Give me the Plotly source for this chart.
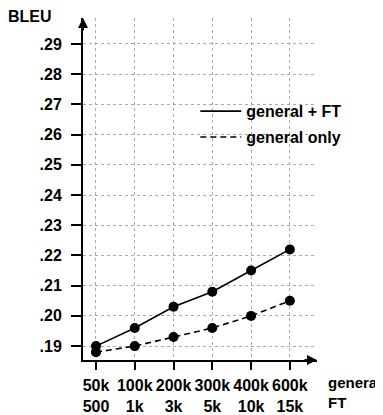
import plotly.graph_objects as go

general_sizes = ["50k", "100k", "200k", "300k", "400k", "600k"]
ft_sizes = ["500", "1k", "3k", "5k", "10k", "15k"]
bleu_general_ft = [0.190, 0.196, 0.203, 0.208, 0.215, 0.222]
bleu_general_only = [0.188, 0.190, 0.193, 0.196, 0.200, 0.205]
y_ticks = [0.19, 0.20, 0.21, 0.22, 0.23, 0.24, 0.25, 0.26, 0.27, 0.28, 0.29]
y_ticktext = ["." + f"{v:.2f}".split(".")[1] for v in y_ticks]

FONT = "Liberation Sans"
DASH = "6px,4px"
xs = list(range(len(general_sizes)))
ticktext = [f"{g}<br>{f}" for g, f in zip(general_sizes, ft_sizes)]

fig = go.Figure()
fig.add_trace(go.Scatter(x=xs, y=bleu_general_ft, mode="lines+markers",
                         line=dict(color="black", width=1.6),
                         marker=dict(color="black", size=10), showlegend=False))
fig.add_trace(go.Scatter(x=xs, y=bleu_general_only, mode="lines+markers",
                         line=dict(color="black", width=1.6, dash=DASH),
                         marker=dict(color="black", size=10), showlegend=False))
fig.add_trace(go.Scatter(x=[None], y=[None], mode="lines", name="general + FT",
                         legendgroup="a",
                         line=dict(color="black", width=1.6)))
fig.add_trace(go.Scatter(x=[None], y=[None], mode="lines", name="general only",
                         legendgroup="b",
                         line=dict(color="black", width=1.6, dash=DASH)))

# page body has an 8px margin, so the figure is 8px smaller and shifted
fig.update_layout(
    width=375, height=407,
    margin=dict(l=75, r=66, t=10, b=55, autoexpand=False),
    plot_bgcolor="white", paper_bgcolor="white",
    font=dict(family=FONT, size=16, color="black"),
    legend=dict(x=0.48, y=0.777, xanchor="left", yanchor="top", itemwidth=41,
                bgcolor="rgba(0,0,0,0)", font=dict(family=FONT, size=16, color="black", weight="bold"),
                tracegroupgap=2),
    xaxis=dict(range=[-0.335, 5.7], tickvals=xs, ticktext=ticktext,
               showgrid=True, gridcolor="#aaa", griddash="dot", gridwidth=1,
               showline=True, linecolor="black", linewidth=2,
               ticks="outside", ticklen=8, tickwidth=1.5, tickcolor="black",
               ticklabelstandoff=2, automargin=False,
               tickfont=dict(family=FONT, size=16, color="black", weight="bold"),
               zeroline=False, fixedrange=True),
    yaxis=dict(range=[0.1854, 0.2986], tickvals=y_ticks, ticktext=y_ticktext,
               showgrid=True, gridcolor="#aaa", griddash="dot", gridwidth=1,
               showline=True, linecolor="black", linewidth=2,
               ticks="outside", ticklen=10, tickwidth=1.5, tickcolor="black",
               ticklabelstandoff=6, automargin=False,
               tickfont=dict(family=FONT, size=16, color="black", weight="bold"),
               zeroline=False, fixedrange=True),
)

fig.add_annotation(x=0, y=1, xref="paper", yref="paper", ax=0, ay=14,
                   axref="pixel", ayref="pixel", showarrow=True, arrowhead=2,
                   arrowsize=1, arrowwidth=2, arrowcolor="black", text="")
fig.add_annotation(x=1, y=0, xref="paper", yref="paper", ax=-14, ay=0,
                   axref="pixel", ayref="pixel", showarrow=True, arrowhead=2,
                   arrowsize=1, arrowwidth=2, arrowcolor="black", text="")
fig.add_annotation(x=-0.2265, y=1.0, xref="paper", yref="paper", xanchor="center",
                   yanchor="middle", yshift=2, showarrow=False, text="BLEU",
                   font=dict(family=FONT, size=16, color="black", weight="bold"))
fig.add_annotation(x=1.038, y=0, xref="paper", yref="paper", xanchor="left",
                   yanchor="top", yshift=-12, showarrow=False, align="left",
                   text="general<br>FT",
                   font=dict(family=FONT, size=15, color="black", weight="bold"))

fig.write_html("out.html")
